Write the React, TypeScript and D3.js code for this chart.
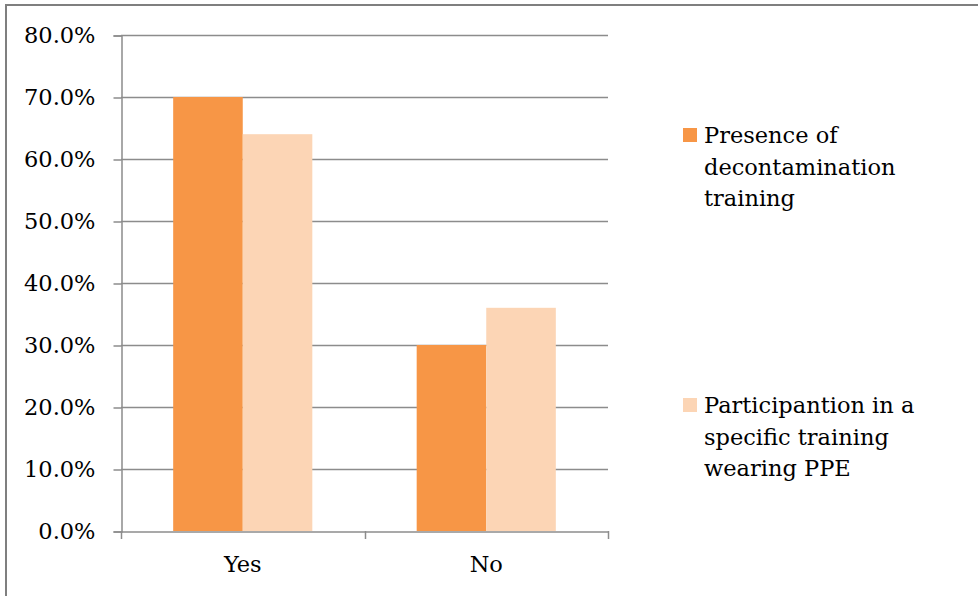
import React, { useEffect, useRef } from 'react';
import * as d3 from 'd3';

const categories = ['Yes', 'No'];
const seriesNames = ['Presence of decontamination training', 'Participantion in a specific training wearing PPE'];
const presence = [70, 30];
const participation = [64, 36];
const yTicks = [0, 10, 20, 30, 40, 50, 60, 70, 80];
const legendLines = [
  ['Presence of', 'decontamination', 'training'],
  ['Participantion in a', 'specific training', 'wearing PPE'],
];
const colors = ['#F79646', '#FCD5B5'];

const App: React.FC = () => {
  const svgRef = useRef<SVGSVGElement>(null);

  useEffect(() => {
    if (!svgRef.current) return;
    const svg = d3.select(svgRef.current);
    svg.selectAll('*').remove();

    const font = "'DejaVu Serif', serif";
    const fs = 22.5;
    const left = 121, right = 608, top = 35, bottom = 531;

    const x0 = d3.scaleBand().domain(categories).range([left, right]);
    const x1 = d3.scaleBand().domain(['a', 'b']).range([0, x0.bandwidth()]).paddingOuter(0.75).paddingInner(0);
    const y = d3.scaleLinear().domain([0, 80]).range([bottom, top]);

    // gridlines
    svg.append('g').selectAll('line').data(yTicks.slice(1)).enter().append('line')
      .attr('x1', left).attr('x2', right)
      .attr('y1', d => Math.round(y(d)) + 0.5).attr('y2', d => Math.round(y(d)) + 0.5)
      .attr('stroke', '#8c8c8c').attr('stroke-width', 1.5);

    // bars
    const rows = categories.map((c, i) => ({ c, vals: [presence[i], participation[i]] }));
    const groups = svg.append('g').selectAll('g').data(rows).enter().append('g')
      .attr('transform', d => `translate(${x0(d.c)},0)`);
    groups.selectAll('rect').data(d => d.vals.map((v, j) => ({ v, j }))).enter().append('rect')
      .attr('x', d => x1(d.j === 0 ? 'a' : 'b')!)
      .attr('width', x1.bandwidth())
      .attr('y', d => y(d.v))
      .attr('height', d => bottom - y(d.v))
      .attr('fill', d => colors[d.j]);

    // y axis
    const yAxis = svg.append('g').attr('transform', `translate(${left + 0.5},0.5)`)
      .call(d3.axisLeft(y).tickValues(yTicks).tickSize(8).tickPadding(18).tickFormat(d => `${(+d).toFixed(1)}%`));
    yAxis.select('.domain').attr('stroke', '#8c8c8c').attr('stroke-width', 1.5);
    yAxis.selectAll('.tick line').attr('stroke', '#8c8c8c').attr('stroke-width', 1.5);
    yAxis.selectAll('.tick text').attr('font-family', font).attr('font-size', fs).attr('fill', '#000');

    // x axis
    const xAxis = svg.append('g').attr('transform', `translate(0,${bottom + 0.5})`)
      .call(d3.axisBottom(x0).tickSize(0).tickPadding(25));
    xAxis.select('.domain').attr('stroke', '#8c8c8c').attr('stroke-width', 1.5);
    xAxis.selectAll('.tick text').attr('font-family', font).attr('font-size', fs).attr('fill', '#000');
    const dividers = [left, ...categories.map(c => x0(c)! + x0.bandwidth())];
    svg.append('g').selectAll('line').data(dividers).enter().append('line')
      .attr('x1', d => Math.round(d) + 0.5).attr('x2', d => Math.round(d) + 0.5)
      .attr('y1', bottom).attr('y2', bottom + 8)
      .attr('stroke', '#8c8c8c').attr('stroke-width', 1.5);

    // legend
    const legendY = [135, 405];
    seriesNames.forEach((name, i) => {
      const g = svg.append('g').attr('transform', `translate(683,${legendY[i]})`).attr('data-name', name);
      g.append('rect').attr('x', 0).attr('y', -7).attr('width', 14).attr('height', 14).attr('fill', colors[i]);
      legendLines[i].forEach((ln, k) => {
        g.append('text').attr('x', 21).attr('y', 8 + k * 31.5)
          .attr('font-family', font).attr('font-size', fs).attr('fill', '#000').text(ln);
      });
    });
  }, []);

  return (
    <div style={{ position: 'absolute', left: 0, top: 0, width: 978, height: 596, overflow: 'hidden' }}>
      <div style={{ position: 'absolute', left: 5, top: 4, width: 1200, height: 800, border: '2px solid #7f7f7f', boxSizing: 'border-box' }} />
      <svg ref={svgRef} width={978} height={596} style={{ display: 'block', position: 'absolute', left: 0, top: 0 }} />
    </div>
  );
};

export default App;
